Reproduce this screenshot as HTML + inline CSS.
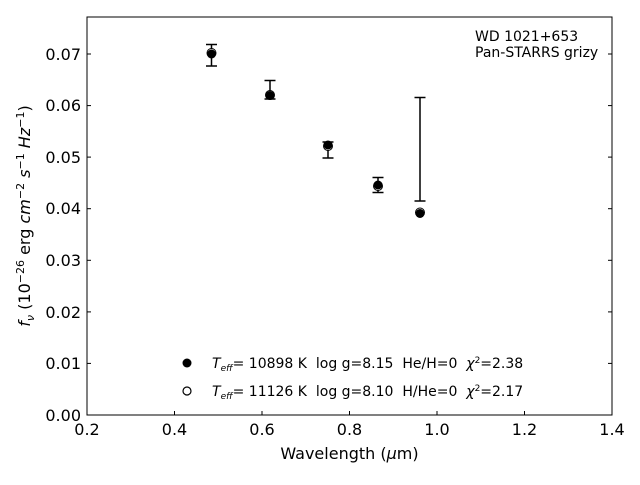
<!DOCTYPE html>
<html><head><style>body{margin:0;background:#fff} text{white-space:pre}</style></head><body>
<svg width="640" height="480" xmlns="http://www.w3.org/2000/svg" font-family="DejaVu Sans, sans-serif" xml:space="preserve">
<rect x="87" y="17" width="525" height="398" fill="none" stroke="#000" stroke-width="1"/>
<g stroke="#000" stroke-width="1">
<line x1="87" y1="415" x2="87" y2="411"/><line x1="174.5" y1="415" x2="174.5" y2="411"/><line x1="262" y1="415" x2="262" y2="411"/><line x1="349.5" y1="415" x2="349.5" y2="411"/><line x1="437" y1="415" x2="437" y2="411"/><line x1="524.5" y1="415" x2="524.5" y2="411"/><line x1="612" y1="415" x2="612" y2="411"/>
<line x1="87" y1="363.4" x2="91" y2="363.4"/><line x1="87" y1="311.9" x2="91" y2="311.9"/><line x1="87" y1="260.3" x2="91" y2="260.3"/><line x1="87" y1="208.7" x2="91" y2="208.7"/><line x1="87" y1="157.1" x2="91" y2="157.1"/><line x1="87" y1="105.6" x2="91" y2="105.6"/><line x1="87" y1="54" x2="91" y2="54"/>
<line x1="612" y1="363.4" x2="608" y2="363.4"/><line x1="612" y1="311.9" x2="608" y2="311.9"/><line x1="612" y1="260.3" x2="608" y2="260.3"/><line x1="612" y1="208.7" x2="608" y2="208.7"/><line x1="612" y1="157.1" x2="608" y2="157.1"/><line x1="612" y1="105.6" x2="608" y2="105.6"/><line x1="612" y1="54" x2="608" y2="54"/>
</g>
<g font-size="16" text-anchor="middle">
<text x="87" y="435">0.2</text><text x="174.5" y="435">0.4</text><text x="262" y="435">0.6</text><text x="349.5" y="435">0.8</text><text x="437" y="435">1.0</text><text x="524.5" y="435">1.2</text><text x="612" y="435">1.4</text>
</g>
<g font-size="16" text-anchor="end">
<text x="81" y="421">0.00</text><text x="81" y="369">0.01</text><text x="81" y="318">0.02</text><text x="81" y="266">0.03</text><text x="81" y="214">0.04</text><text x="81" y="163">0.05</text><text x="81" y="111">0.06</text><text x="81" y="60">0.07</text>
</g>
<text x="349.5" y="459" font-size="16" text-anchor="middle">Wavelength (<tspan font-style="italic">μ</tspan>m)</text>
<text transform="translate(30,216) rotate(-90)" font-size="16" text-anchor="middle"><tspan font-style="italic">f</tspan><tspan font-style="italic" font-size="11" dy="4">ν</tspan><tspan dy="-4"> (10</tspan><tspan font-size="11" dy="-6">−26</tspan><tspan dy="6"> erg </tspan><tspan font-style="italic">cm</tspan><tspan font-size="11" dy="-6">−2</tspan><tspan dy="6" font-style="italic"> s</tspan><tspan font-size="11" dy="-6">−1</tspan><tspan dy="6" font-style="italic"> Hz</tspan><tspan font-size="11" dy="-6">−1</tspan><tspan dy="6">)</tspan></text>
<text x="475" y="41" font-size="14">WD 1021+653</text>
<text x="475" y="57" font-size="14">Pan-STARRS grizy</text>
<g stroke="#000" stroke-width="1.5" fill="none">
<line x1="211.5" y1="44.5" x2="211.5" y2="66"/><line x1="206" y1="44.5" x2="217" y2="44.5"/><line x1="206" y1="66" x2="217" y2="66"/>
<line x1="270" y1="80.5" x2="270" y2="99"/><line x1="264.5" y1="80.5" x2="275.5" y2="80.5"/><line x1="264.5" y1="99" x2="275.5" y2="99"/>
<line x1="328" y1="142" x2="328" y2="158"/><line x1="322.5" y1="142" x2="333.5" y2="142"/><line x1="322.5" y1="158" x2="333.5" y2="158"/>
<line x1="378" y1="177.5" x2="378" y2="192.5"/><line x1="372.5" y1="177.5" x2="383.5" y2="177.5"/><line x1="372.5" y1="192.5" x2="383.5" y2="192.5"/>
<line x1="420" y1="97.5" x2="420" y2="201"/><line x1="414.5" y1="97.5" x2="425.5" y2="97.5"/><line x1="414.5" y1="201" x2="425.5" y2="201"/>
</g>
<g fill="#fff" stroke="#000" stroke-width="1">
<circle cx="211.5" cy="53" r="4.5"/><circle cx="270" cy="95" r="4.5"/><circle cx="328" cy="146" r="4.5"/><circle cx="378" cy="186" r="4.5"/><circle cx="420" cy="212.5" r="4.5"/>
</g>
<g fill="#000">
<circle cx="211.5" cy="54" r="4.5"/><circle cx="270" cy="95.5" r="4.5"/><circle cx="328" cy="145" r="4.5"/><circle cx="378" cy="185" r="4.5"/><circle cx="420" cy="213.5" r="4.5"/>
</g>
<circle cx="187" cy="363" r="4.5" fill="#000"/>
<circle cx="187" cy="391" r="4" fill="#fff" stroke="#000" stroke-width="1.2"/>
<g font-size="14">
<text x="212" y="368"><tspan font-style="italic">T</tspan><tspan font-style="italic" font-size="9" dy="3">eff</tspan><tspan dy="-3">= 10898 K  log g=8.15  He/H=0  </tspan><tspan font-style="italic">χ</tspan><tspan font-size="9" dy="-5">2</tspan><tspan dy="5">=2.38</tspan></text>
<text x="212" y="396"><tspan font-style="italic">T</tspan><tspan font-style="italic" font-size="9" dy="3">eff</tspan><tspan dy="-3">= 11126 K  log g=8.10  H/He=0  </tspan><tspan font-style="italic">χ</tspan><tspan font-size="9" dy="-5">2</tspan><tspan dy="5">=2.17</tspan></text>
</g>
</svg>
</body></html>
